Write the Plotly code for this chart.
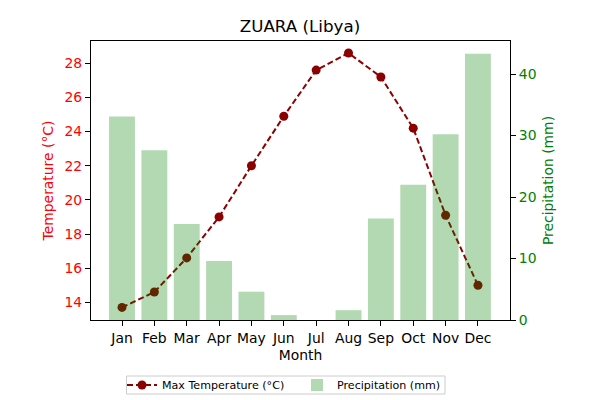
import plotly.graph_objects as go

months = ["Jan", "Feb", "Mar", "Apr", "May", "Jun", "Jul", "Aug", "Sep", "Oct", "Nov", "Dec"]
max_temp = [13.7, 14.6, 16.6, 19.0, 22.0, 24.9, 27.6, 28.6, 27.2, 24.2, 19.1, 15.0]
precip = [33.1, 27.6, 15.6, 9.6, 4.6, 0.8, 0.0, 1.6, 16.5, 22.0, 30.2, 43.3]
temp_ticks = [14, 16, 18, 20, 22, 24, 26, 28]
precip_ticks = [0, 10, 20, 30, 40]

FONT = "DejaVu Sans"

FIG_H = 412
PAGE_BOTTOM = 8 + FIG_H - 8  # plotly keeps about 8 px below the paper area
PAPER_H = PAGE_BOTTOM - 41
DOMAIN_BOTTOM = (PAGE_BOTTOM - 320) / PAPER_H

fig = go.Figure()
fig.add_trace(go.Scatter(
    x=months, y=max_temp, name="Max Temperature (°C)", mode="lines+markers",
    line=dict(color="#8b0000", width=2, dash="6px,3px"),
    marker=dict(color="#8b0000", size=9), yaxis="y", cliponaxis=False,
))
fig.add_trace(go.Bar(
    x=months, y=precip, name="Precipitation (mm)", width=0.8,
    marker=dict(color="rgba(0,128,0,0.3)", line=dict(width=0)), yaxis="y2",
))

fig.update_layout(
    width=592, height=FIG_H, autosize=False,
    margin=dict(l=83, r=90, t=33, b=0),
    paper_bgcolor="white", plot_bgcolor="white",
    font=dict(family=FONT, size=13.9, color="black"),
    title=dict(text="ZUARA (Libya)", x=(300 - 8) / 592, xanchor="center", y=1 - 18 / FIG_H, yanchor="middle",
               font=dict(size=16.7, color="black")),
    showlegend=True,
    legend=dict(orientation="h",
                x=(122 - 91) / 419, xanchor="left", y=(PAGE_BOTTOM - 385) / PAPER_H, yanchor="middle",
                font=dict(size=11.1), borderwidth=0,
                bgcolor="rgba(0,0,0,0)", itemwidth=30, traceorder="normal",
                entrywidth=130, entrywidthmode="pixels"),
    shapes=[dict(type="rect", xref="paper", yref="paper", layer="below",
                 x0=(126.5 - 91) / 419, x1=(445 - 91) / 419,
                 y0=(PAGE_BOTTOM - 376) / PAPER_H, y1=(PAGE_BOTTOM - 394) / PAPER_H,
                 line=dict(color="#cccccc", width=1), fillcolor="white")],
    xaxis=dict(
        type="category", categoryorder="array", categoryarray=months,
        range=[-0.958, 11.99], showgrid=False, zeroline=False,
        showline=True, linecolor="black", linewidth=1.1, mirror=True,
        ticks="outside", ticklen=5, tickcolor="black", tickwidth=1.1,
        title=dict(text="Month", standoff=5, font=dict(size=13.9)),
    ),
    yaxis=dict(
        domain=[DOMAIN_BOTTOM, 1],
        range=[12.963, 29.306], tickvals=temp_ticks, showgrid=False, zeroline=False,
        showline=True, linecolor="black", linewidth=1.1,
        ticks="outside", ticklen=5, tickcolor="black", tickwidth=1.1,
        tickfont=dict(color="red", size=13.9),
        title=dict(text="Temperature (°C)", standoff=7, font=dict(color="red", size=13.9)),
    ),
    yaxis2=dict(
        overlaying="y", side="right", range=[0, 45.37], tickvals=precip_ticks,
        showgrid=False, zeroline=False,
        showline=True, linecolor="black", linewidth=1.1,
        ticks="outside", ticklen=5, tickcolor="black", tickwidth=1.1,
        tickfont=dict(color="green", size=13.9),
        title=dict(text="Precipitation (mm)", standoff=7, font=dict(color="green", size=13.9)),
    ),
)

fig.write_html("out.html", post_script="document.body.style.overflow='hidden';")
